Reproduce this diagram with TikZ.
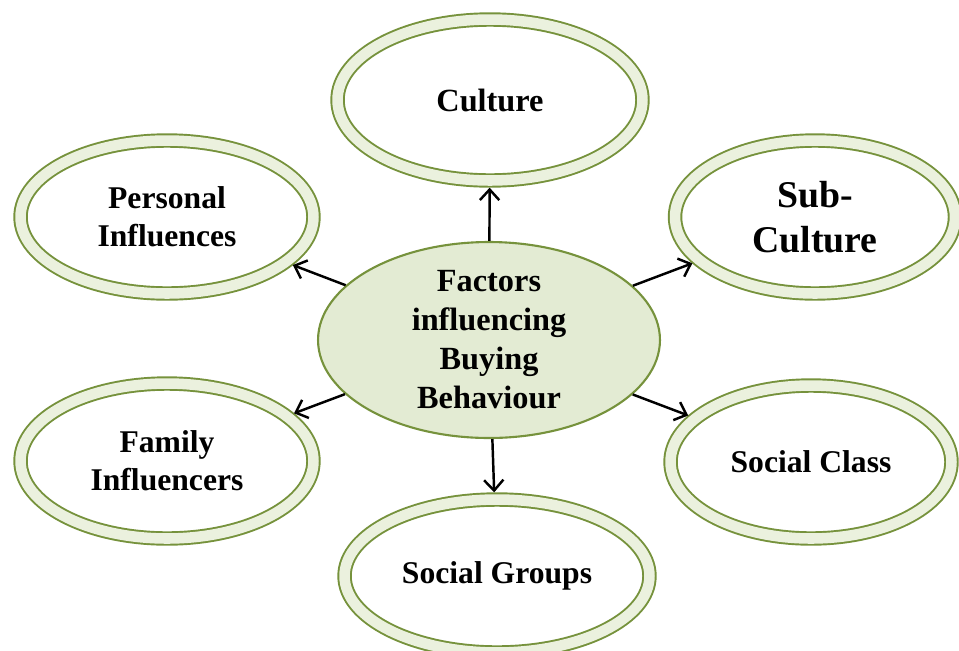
\documentclass[tikz,border=0pt]{standalone}
\usepackage{fontspec}
\setmainfont{Liberation Serif}
\usetikzlibrary{shapes.geometric,arrows.meta}

\definecolor{ringgreen}{HTML}{76923C}
\definecolor{ringfill}{HTML}{EBF1DE}
\definecolor{hubfill}{HTML}{E3EBD3}

\begin{document}
\begin{tikzpicture}[
                x=0.02cm, y=-0.02cm,          % pixel-like units
                every node/.style={
                    ellipse,
                    inner sep=0pt,
                    align=center,
                    font=\bfseries\fontsize{18}{21.5}\selectfont
                },
                ring/.style={
                    draw=ringgreen,
                    line width=1.1pt,
                    double=ringfill,
                    double distance=6pt,
                    fill=white,
                    outer sep=4.1pt
                },
                >={Straight Barb[length=6pt,width=11pt]},
                arrow/.style={->, line width=1.4pt}
            ]
                \useasboundingbox (0,0) rectangle (959,650);

                % centre
                \node[draw=ringgreen, line width=1.2pt, fill=hubfill,
                      minimum width=6.84cm, minimum height=3.68cm,
                      font=\bfseries\fontsize{18.4}{22.2}\selectfont]
                      (hub) at (489,340) {Factors\\influencing\\Buying\\Behaviour};

                % factors around it
                \node[ring, minimum width=6.1cm, minimum height=3.22cm,
                      font=\bfseries\fontsize{18.4}{22}\selectfont]
                      (culture) at (490,100) {Culture};
                \node[ring, minimum width=5.86cm, minimum height=3.06cm]
                      (personal) at (167,217) {Personal\\Influences};
                \node[ring, minimum width=5.6cm, minimum height=3.06cm,
                      font=\bfseries\fontsize{21.5}{25.6}\selectfont]
                      (subculture) at (815,217) {Sub-\\Culture};
                \node[ring, minimum width=5.86cm, minimum height=3.1cm]
                      (family) at (167,461) {Family\\Influencers};
                \node[ring, minimum width=5.62cm, minimum height=3.06cm]
                      (class) at (811,462) {Social Class};
                \node[ring, minimum width=6.1cm, minimum height=3.06cm]
                      (groups) at (497,576) {Social Groups};

                % arrows
                \draw[arrow] (hub) -- (culture);
                \draw[arrow] (hub) -- (personal);
                \draw[arrow] (hub) -- (subculture);
                \draw[arrow] (hub) -- (family);
                \draw[arrow] (hub) -- (class);
                \draw[arrow] (hub) -- (groups);
\end{tikzpicture}
\end{document}
